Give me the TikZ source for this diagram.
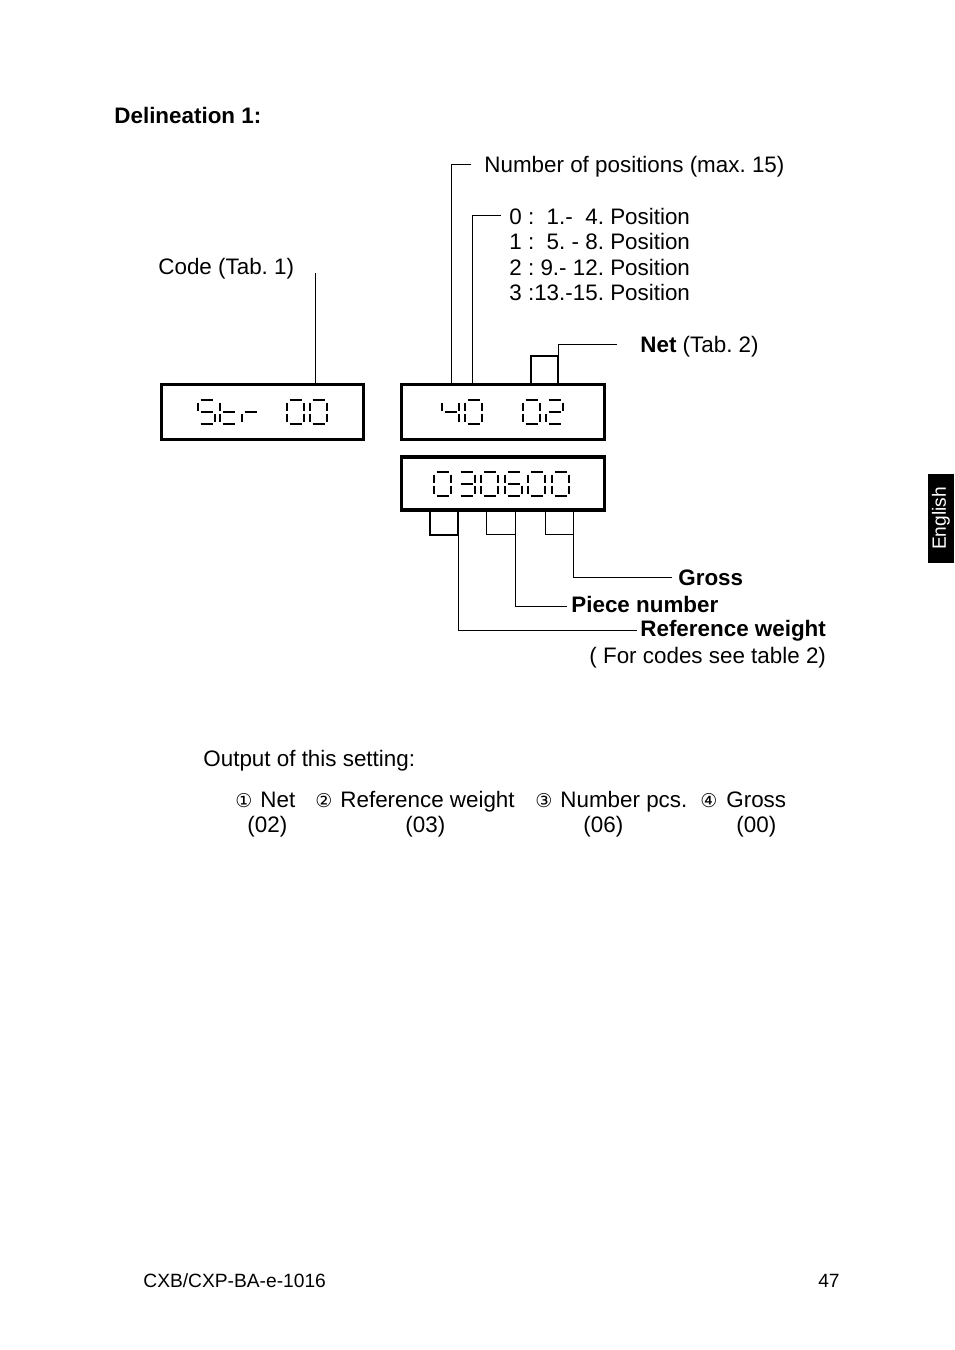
\documentclass[tikz,border=0pt]{standalone}
\usepackage{fontspec}
\setmainfont{Liberation Sans}
\newfontfamily\circfont{DejaVu Sans}
\usetikzlibrary{positioning}
\frenchspacing

% one seven-segment digit: #1,#2 top left corner, #3 list of lit segments
\newcommand{\lcddigit}[3]{%
  \begin{scope}[shift={(#1,#2)}]
    \coordinate (seg-a-1) at (2.5,0);   \coordinate (seg-a-2) at (14.5,0);
    \coordinate (seg-b-1) at (17,2.5);  \coordinate (seg-b-2) at (17,10.5);
    \coordinate (seg-c-1) at (17,13.5); \coordinate (seg-c-2) at (17,21.5);
    \coordinate (seg-d-1) at (2.5,24);  \coordinate (seg-d-2) at (14.5,24);
    \coordinate (seg-e-1) at (0,13.5);  \coordinate (seg-e-2) at (0,21.5);
    \coordinate (seg-f-1) at (0,2.5);   \coordinate (seg-f-2) at (0,10.5);
    \coordinate (seg-g-1) at (2.5,12);  \coordinate (seg-g-2) at (14.5,12);
    \foreach \s in {#3}{\draw[lcdseg] (seg-\s-1) -- (seg-\s-2);}
  \end{scope}}

\begin{document}
\begin{tikzpicture}[x=0.5pt,y=-0.5pt,every node/.style={inner sep=0pt,font=\fontsize{11.2}{13.4}\selectfont}]
\tikzstyle{txt}=[anchor=base west]
\tikzstyle{lcdbox}=[draw,rectangle,line width=1.65pt]
\tikzstyle{lcdseg}=[line width=1.3pt]
\tikzstyle{leader}=[draw,line width=0.5pt]
\tikzstyle{circ}=[txt,font=\circfont\fontsize{9.5}{11}\selectfont]
\useasboundingbox (0,0) rectangle (954,1350);

\node[txt](head) at (114,123){\textbf{Delineation 1:}};

% displays
\node[lcdbox,minimum width=101pt,minimum height=27.5pt](disp1) at (262.5,412){};
\node[lcdbox,minimum width=101.5pt,minimum height=27.5pt](disp2) at (503,412){};
\node[lcdbox,minimum width=101.5pt,minimum height=26.5pt](disp3) at (503,483.5){};

\lcddigit{198}{400}{a,f,g,c,d}
\lcddigit{220}{400}{f,e,g,d}
\lcddigit{242}{400}{e,g}
\lcddigit{287}{400}{a,b,c,d,e,f}
\lcddigit{310}{400}{a,b,c,d,e,f}

\lcddigit{442}{400}{f,g,b,c}
\lcddigit{465}{400}{a,b,c,d,e,f}
\lcddigit{523}{400}{a,b,c,d,e,f}
\lcddigit{546}{400}{a,b,g,e,d}

\lcddigit{434}{472}{a,b,c,d,e,f}
\lcddigit{458}{472}{a,b,g,c,d}
\lcddigit{481}{472}{a,b,c,d,e,f}
\lcddigit{505}{472}{a,f,g,e,c,d}
\lcddigit{528}{472}{a,b,c,d,e,f}
\lcddigit{552}{472}{a,b,c,d,e,f}

% labels above
\node[txt](code) at (158,274){Code (Tab. 1)};
\node[txt](numpos) at (484,172){Number of positions (max. 15)};
\node[txt](pos0) at (509,224){0 :\ \ 1.-\ \ 4. Position};
\node[txt](pos1) at ([yshift=-12.75pt]pos0.base west){1 :\ \ 5. - 8. Position};
\node[txt](pos2) at ([yshift=-12.75pt]pos1.base west){2 : 9.- 12. Position};
\node[txt](pos3) at ([yshift=-12.75pt]pos2.base west){3 :13.-15. Position};
\node[txt](net) at (640,352){\textbf{Net} (Tab. 2)};

\coordinate (k-code) at (315,273);
\coordinate (k-num) at (471,164);
\coordinate (k-pos) at (501,215);
\coordinate (k-net) at (617,344);

\path[leader](k-code)--(k-code |- disp1.north);
\path[leader](k-num)-|([xshift=25.75pt]disp2.north west);
\path[leader](k-pos)-|([xshift=36.25pt]disp2.north west);
\path[leader](k-net)-|([xshift=79.25pt]disp2.north west);
\path[leader,line width=0.9pt]([xshift=65.75pt]disp2.north west)--++(0,-27)-|([xshift=79.25pt]disp2.north west);

% labels below
\node[txt](gross) at (678,585){\textbf{Gross}};
\node[txt](piece) at (571,612){\textbf{Piece number}};
\node[txt](refw) at (640,636){\textbf{Reference weight}};
\node[txt](codes) at (589,663){( For codes see table 2)};

\coordinate (k-gross) at (672,577);
\coordinate (k-piece) at (567,606);
\coordinate (k-ref) at (637,630);

\path[leader,line width=1pt]([xshift=15.25pt]disp3.south west)--++(0,23)-|([xshift=29.25pt]disp3.south west);
\path[leader]([xshift=43.25pt]disp3.south west)--++(0,23)-|([xshift=57.75pt]disp3.south west);
\path[leader]([xshift=72.75pt]disp3.south west)--++(0,23)-|([xshift=86.75pt]disp3.south west);
\path[leader]([xshift=86.75pt]disp3.south west)|-(k-gross);
\path[leader]([xshift=57.75pt]disp3.south west)|-(k-piece);
\path[leader]([xshift=29.25pt]disp3.south west)|-(k-ref);

% output
\node[txt](out) at (203,766){Output of this setting:};
\node[circ](c1) at (235,807){①};
\node[txt](o1) at (260,807){Net};
\node[circ](c2) at (315,807){②};
\node[txt](o2) at (340,807){Reference weight};
\node[circ](c3) at (535,807){③};
\node[txt](o3) at (560,807){Number pcs.};
\node[circ](c4) at (700,807){④};
\node[txt](o4) at (726,807){Gross};
\node[txt](v1) at (247,832){(02)};
\node[txt](v2) at (405,832){(03)};
\node[txt](v3) at (583,832){(06)};
\node[txt](v4) at (736,832){(00)};

% page furniture
\fill (928,474) rectangle (954,563);
\node[rotate=90,white,font=\fontsize{9.6}{11}\selectfont](lang) at (941,518.5){English};
\node[txt,font=\fontsize{9.6}{11}\selectfont](doc) at (143,1287){CXB/CXP-BA-e-1016};
\node[anchor=base east,font=\fontsize{9.6}{11}\selectfont](page) at (840,1287){47};
\end{tikzpicture}
\end{document}
